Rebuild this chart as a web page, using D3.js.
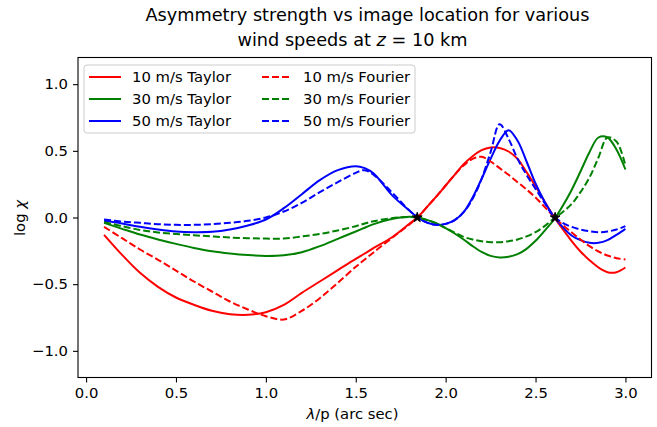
<!DOCTYPE html>
<html>
<head>
<meta charset="utf-8">
<script src="https://cdn.jsdelivr.net/npm/d3@7"></script>
<style>
  html, body { margin: 0; padding: 0; background: #fff; }
  svg { display: block; font-family: "DejaVu Sans", sans-serif; }
</style>
</head>
<body>
<svg id="chart" width="657" height="427"></svg>
<script>
// ---- data ----
const xValues = [0.1,0.2,0.3,0.4,0.5,0.6,0.7,0.8,0.9,1.0,1.1,1.2,1.3,1.4,1.5,1.55,1.6,1.7,1.8,1.85,1.9,1.95,
  2.0,2.05,2.1,2.15,2.2,2.25,2.3,2.35,2.4,2.45,2.5,2.55,2.6,2.65,2.7,2.75,2.8,2.85,2.9,2.95,3.0];

const taylor10 = [-0.13,-0.28,-0.415,-0.52,-0.60,-0.655,-0.70,-0.725,-0.73,-0.71,-0.655,-0.565,-0.48,-0.395,-0.31,-0.27,-0.228,-0.15,-0.045,0.01,0.085,0.16,
  0.24,0.32,0.40,0.46,0.505,0.525,0.522,0.495,0.44,0.34,0.235,0.12,0.01,-0.085,-0.175,-0.255,-0.32,-0.375,-0.41,-0.41,-0.375];
const taylor30 = [-0.04,-0.085,-0.128,-0.165,-0.198,-0.228,-0.253,-0.27,-0.282,-0.288,-0.283,-0.26,-0.215,-0.16,-0.105,-0.077,-0.05,-0.012,0.005,-0.002,-0.02,-0.045,
  -0.08,-0.12,-0.165,-0.215,-0.258,-0.288,-0.30,-0.295,-0.275,-0.235,-0.175,-0.10,-0.02,0.085,0.205,0.345,0.49,0.60,0.60,0.51,0.36];
const taylor50 = [-0.025,-0.045,-0.07,-0.09,-0.105,-0.11,-0.107,-0.09,-0.06,-0.015,0.07,0.175,0.28,0.355,0.385,0.37,0.33,0.17,0.05,-0.005,-0.04,-0.055,
  -0.048,-0.02,0.04,0.15,0.29,0.44,0.575,0.655,0.575,0.42,0.255,0.12,0.01,-0.07,-0.135,-0.17,-0.19,-0.19,-0.17,-0.13,-0.085];
const fourier10 = [-0.07,-0.155,-0.24,-0.317,-0.398,-0.48,-0.555,-0.63,-0.69,-0.74,-0.765,-0.70,-0.605,-0.49,-0.37,-0.315,-0.26,-0.155,-0.05,0.01,0.085,0.16,
  0.24,0.32,0.39,0.44,0.455,0.42,0.37,0.32,0.265,0.21,0.15,0.08,0.01,-0.055,-0.11,-0.165,-0.215,-0.255,-0.285,-0.305,-0.315];
const fourier30 = [-0.035,-0.065,-0.093,-0.112,-0.123,-0.133,-0.142,-0.15,-0.155,-0.158,-0.158,-0.142,-0.123,-0.097,-0.065,-0.045,-0.028,-0.005,0.003,-0.002,-0.02,-0.045,
  -0.08,-0.113,-0.145,-0.165,-0.178,-0.185,-0.185,-0.178,-0.165,-0.142,-0.11,-0.065,-0.01,0.04,0.10,0.19,0.30,0.45,0.60,0.57,0.39];
const fourier50 = [-0.015,-0.03,-0.04,-0.05,-0.055,-0.055,-0.05,-0.04,-0.025,0.0,0.045,0.11,0.19,0.265,0.335,0.355,0.32,0.19,0.05,-0.005,-0.04,-0.055,
  -0.048,-0.02,0.04,0.14,0.29,0.49,0.70,0.59,0.44,0.32,0.215,0.11,0.01,-0.04,-0.07,-0.09,-0.103,-0.11,-0.105,-0.09,-0.065];

const starX = [1.842, 2.609];
const starY = [0.0, 0.0];

const xTicks = [0.0, 0.5, 1.0, 1.5, 2.0, 2.5, 3.0];
const yTicks = [-1.0, -0.5, 0.0, 0.5, 1.0];

const seriesLabels = ["10 m/s Taylor","30 m/s Taylor","50 m/s Taylor","10 m/s Fourier","30 m/s Fourier","50 m/s Fourier"];
const seriesColors = ["#ff0000","#008000","#0000ff","#ff0000","#008000","#0000ff"];
const seriesDashed = [false,false,false,true,true,true];
const seriesValues = [taylor10, taylor30, taylor50, fourier10, fourier30, fourier50];

// ---- layout ----
const L = 78, R = 651.5, T = 57.5, B = 377.5;
const fs = 14.8;
const svg = d3.select("#chart");

const x = d3.scaleLinear().domain([-0.045, 3.145]).range([L, R]);
const y = d3.scaleLinear().domain([-1.2, 1.2]).range([B, T]);

// axes
const fmt = d => d3.format(".1f")(d).replace("-", "\u2212");
const xAxis = svg.append("g").attr("transform", `translate(0,${B})`)
  .call(d3.axisBottom(x).tickValues(xTicks).tickFormat(fmt).tickSizeInner(5).tickSizeOuter(0).tickPadding(5));
const yAxis = svg.append("g").attr("transform", `translate(${L},0)`)
  .call(d3.axisLeft(y).tickValues(yTicks).tickFormat(fmt).tickSizeInner(5).tickSizeOuter(0).tickPadding(5));
[xAxis, yAxis].forEach(g => {
  g.select(".domain").remove();
  g.selectAll(".tick line").attr("stroke", "#000").attr("stroke-width", 1.1);
  g.selectAll(".tick text").attr("font-size", fs).attr("font-family", "DejaVu Sans").attr("fill", "#000");
});

// lines
const line = d3.line().x(d => x(d[0])).y(d => y(d[1])).curve(d3.curveCatmullRom.alpha(0.5));
seriesValues.forEach((vals, i) => {
  const pts = xValues.map((xv, j) => [xv, vals[j]]);
  svg.append("path").attr("d", line(pts))
    .attr("fill", "none").attr("stroke", seriesColors[i]).attr("stroke-width", 2)
    .attr("stroke-dasharray", seriesDashed[i] ? "7,3" : null);
});

// star markers
const star = d3.symbol().type(d3.symbolStar).size(30);
starX.forEach((sx, i) => {
  svg.append("path").attr("d", star())
    .attr("transform", `translate(${x(sx)},${y(starY[i])})`)
    .attr("fill", "#000").attr("stroke", "#000").attr("stroke-width", 1);
});

// frame
svg.append("rect").attr("x", L).attr("y", T).attr("width", R - L).attr("height", B - T)
  .attr("fill", "none").attr("stroke", "#000").attr("stroke-width", 1.1);

// legend
const lg = svg.append("g");
lg.append("rect").attr("x", 84).attr("y", 65).attr("width", 331).attr("height", 68).attr("rx", 3)
  .attr("fill", "#fff").attr("fill-opacity", 0.8).attr("stroke", "#cccccc").attr("stroke-width", 1);
seriesLabels.forEach((lab, i) => {
  const col = Math.floor(i / 3), row = i % 3;
  const yy = 77 + row * 22;
  const x0 = col === 0 ? 89 : 262, x1 = col === 0 ? 121 : 292, tx = col === 0 ? 132 : 303;
  lg.append("line").attr("x1", x0).attr("x2", x1).attr("y1", yy).attr("y2", yy)
    .attr("stroke", seriesColors[i]).attr("stroke-width", 2)
    .attr("stroke-dasharray", seriesDashed[i] ? "7,3" : null);
  lg.append("text").attr("x", tx).attr("y", yy).attr("dy", "0.36em")
    .attr("font-size", fs).attr("fill", "#000").text(lab);
});

// title
const title = svg.append("g").attr("font-size", 17.7).attr("fill", "#000");
title.append("text").attr("x", 367.5).attr("y", 21).attr("text-anchor", "middle")
  .text("Asymmetry strength vs image location for various");
const t2 = title.append("text").attr("x", 352.5).attr("y", 45.5).attr("text-anchor", "middle");
t2.append("tspan").text("wind speeds at ");
t2.append("tspan").attr("font-style", "italic").text("z");
t2.append("tspan").text(" = 10 km");

// axis labels
const xl = svg.append("text").attr("x", 352.5).attr("y", 419).attr("text-anchor", "middle").attr("font-size", fs);
xl.append("tspan").attr("font-style", "italic").text("\u03bb");
xl.append("tspan").text("/p (arc sec)");

const yl = svg.append("text").attr("transform", "translate(25,218) rotate(-90)")
  .attr("text-anchor", "middle").attr("font-size", fs);
yl.append("tspan").text("log ");
yl.append("tspan").attr("font-style", "italic").text("\u03c7");
</script>
</body>
</html>
